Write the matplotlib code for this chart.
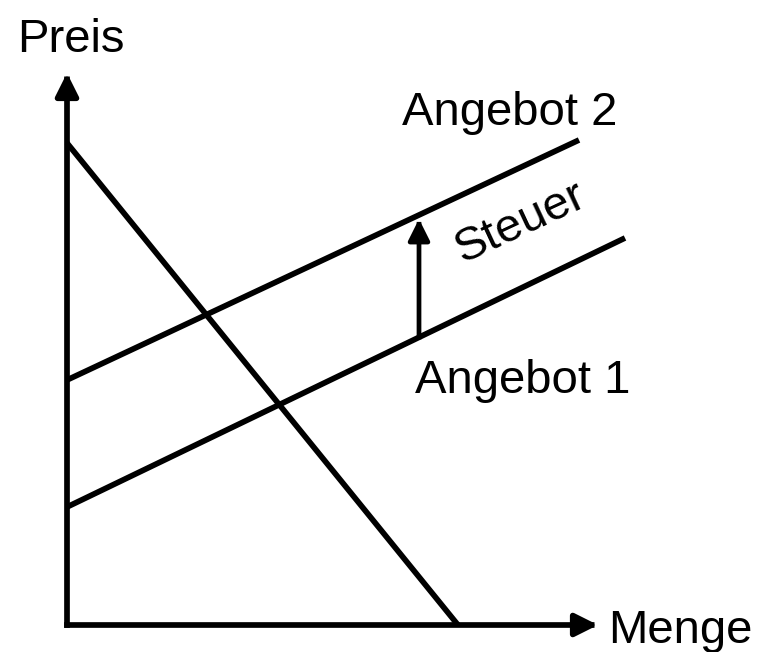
import matplotlib
matplotlib.use('agg')
import matplotlib.pyplot as plt

# schematic supply/demand diagram, units are arbitrary (quantity, price)
axis_tips = {'x': 53.1, 'y': 55.2}
demand_q = [0.0, 39.1]
demand_p = [48.2, 0.0]
supply1_q = [0.0, 55.8]
supply1_p = [11.8, 38.7]
supply2_q = [0.0, 51.2]
supply2_p = [24.5, 48.5]
tax_q = 35.2
tax_p = [28.8, 40.6]

labels = {
    'Preis': (-5.0, 57.3),
    'Menge': (54.1, -1.8),
    'Angebot 2': (33.5, 50.0),
    'Angebot 1': (34.8, 23.2),
}

plt.rcParams['font.family'] = ['Liberation Sans', 'DejaVu Sans']

fig = plt.figure(figsize=(7.58, 6.52), dpi=100)
ax = fig.add_axes((0, 0, 1, 1))
ax.set_xlim(-6.7, 69.1)
ax.set_ylim(-2.7, 62.5)
ax.axis('off')

lw = 4.1
arrow = dict(arrowstyle='-|>,head_length=0.4,head_width=0.2', mutation_scale=34,
             lw=lw, color='black', shrinkA=0, shrinkB=0, capstyle='projecting')

#-- axes with arrow heads
ax.annotate('', xy=(0, axis_tips['y']), xytext=(0, 0), arrowprops=arrow)
ax.annotate('', xy=(axis_tips['x'], 0), xytext=(0, 0), arrowprops=arrow)

#-- curves
for q, p in [(demand_q, demand_p), (supply1_q, supply1_p), (supply2_q, supply2_p)]:
    ax.plot(q, p, color='black', lw=lw, solid_capstyle='butt')

#-- tax shift
tax_arrow = dict(arrow, mutation_scale=32, lw=3.4)
ax.annotate('', xy=(tax_q, tax_p[1]), xytext=(tax_q, tax_p[0]), arrowprops=tax_arrow)
ax.text(45.4, 40.2, 'Steuer', fontsize=34, rotation=25, ha='center', va='center',
        rotation_mode='anchor')

for txt, (x, y) in labels.items():
    ax.text(x, y, txt, fontsize=34, ha='left', va='baseline')

fig.savefig('out.png', dpi=100)
